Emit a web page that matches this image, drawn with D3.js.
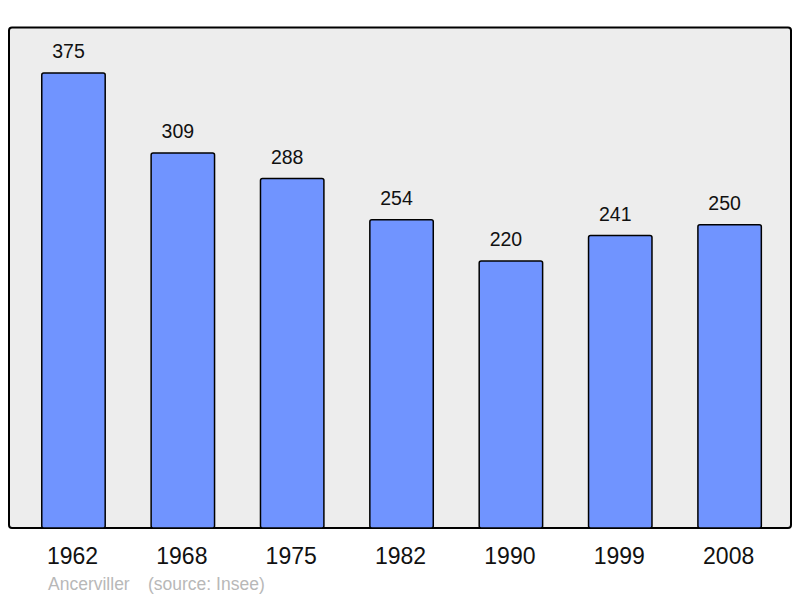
<!DOCTYPE html>
<html><head><meta charset="utf-8">
<script src="https://cdn.jsdelivr.net/npm/d3@7"></script>
<style>body{margin:0;background:#fff}svg{display:block}</style>
</head><body>
<svg id="c" width="800" height="598"></svg>
<script>
const years = ["1962","1968","1975","1982","1990","1999","2008"];
const population = [375,309,288,254,220,241,250];
const placeName = "Ancerviller";
const sourceText = "(source: Insee)";

const svg = d3.select("#c");
const font = "Liberation Sans, Arial, sans-serif";

const box = {x0: 9, x1: 791, y0: 27.5, y1: 528};
svg.append("rect").attr("x", box.x0).attr("y", box.y0)
  .attr("width", box.x1 - box.x0).attr("height", box.y1 - box.y0)
  .attr("rx", 3).attr("fill", "#ededed").attr("stroke", "#000").attr("stroke-width", 2);

const x = d3.scaleBand().domain(years).range([18.8, 784.3]).paddingInner(0.42).paddingOuter(0.21);
const y = d3.scaleLinear().domain([0, 412.5]).range([box.y1, box.y0]);

const g = svg.append("g");
g.selectAll("rect.bar").data(years).join("rect").attr("class","bar")
  .attr("x", d => x(d)).attr("width", x.bandwidth())
  .attr("y", (d,i) => y(population[i])).attr("height", (d,i) => y(0) - y(population[i]))
  .attr("rx", 2).attr("fill", "#7094ff").attr("stroke", "#000").attr("stroke-width", 1.5);

g.selectAll("text.val").data(years).join("text").attr("class","val")
  .attr("x", d => x(d) + x.bandwidth()/2 - 5).attr("y", (d,i) => y(population[i]) - 15)
  .attr("text-anchor","middle").attr("font-family", font).attr("font-size", 19.5).attr("fill","#111")
  .text((d,i) => population[i]);

const axis = d3.axisBottom(x).tickSize(0).tickPadding(0);
const ag = svg.append("g").attr("transform", `translate(-1,${box.y1})`).call(axis);
ag.select(".domain").remove();
ag.selectAll("text").attr("font-family", font).attr("font-size", 23).attr("fill","#111")
  .attr("dy", null).attr("y", 36);

svg.append("text").attr("x", 48).attr("y", 590).attr("font-family", font).attr("font-size", 17.5)
  .attr("fill", "#b8b8b8").text(placeName);
svg.append("text").attr("x", 148).attr("y", 590).attr("font-family", font).attr("font-size", 17.5)
  .attr("fill", "#b8b8b8").text(sourceText);
</script>
</body></html>
